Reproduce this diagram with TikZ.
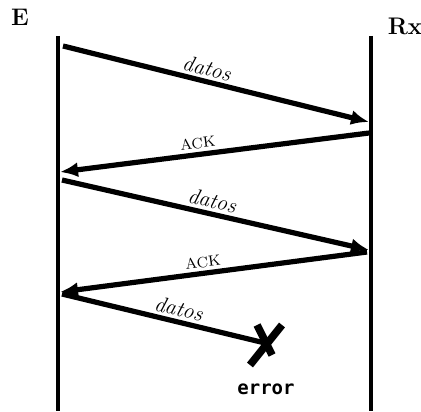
\documentclass[tikz,border=0pt]{standalone}
\usepackage{fontspec}
\newfontfamily\errfont{DejaVu Sans Mono}
\usetikzlibrary{arrows.meta}
\begin{document}
\begin{tikzpicture}[x=0.5pt,y=-0.5pt,line width=2pt,>={Latex[length=9pt,width=7.5pt]},
  msg/.style={->,line width=2.6pt},
  dat/.style={sloped,above,inner sep=1.5pt,font=\fontsize{11}{13}\selectfont\itshape},
  ack/.style={sloped,above,inner sep=1.5pt,font=\fontsize{7.5}{9}\selectfont}]
  \useasboundingbox (0,0) rectangle (421,411);
  % emisor y receptor
  \node[font=\large\bfseries] (E) at (20,17) {E};
  \node[font=\large\bfseries] (Rx) at (405,26) {Rx};
  \coordinate (Etop) at (58,36); \coordinate (Ebot) at (58,411);
  \coordinate (Rtop) at (371,36); \coordinate (Rbot) at (371,411);
  \draw (Etop) -- (Ebot);
  \draw (Rtop) -- (Rbot);
  % puntos de salida y llegada
  \foreach \n/\x/\y in {e1/63/46, r1/369/122, r2/369/133, e2/60/172, e3/62/180,
                        r3/369/250, r4/367/252, e4/60/292, e5/62/294}
    \coordinate (\n) at (\x,\y);
  \coordinate (err) at (265,343);
  % tramas y confirmaciones
  \draw[msg] (e1) -- node[dat,pos=0.46]{datos} (r1);
  \draw[msg] (r2) -- node[ack,pos=0.55]{ACK} (e2);
  \draw[msg] (e3) -- node[dat,pos=0.48]{datos} (r3);
  \draw[msg] (r4) -- node[ack,pos=0.53]{ACK} (e4);
  \draw[line width=2.6pt] (e5) -- node[dat,pos=0.56]{datos} (err);
  % trama perdida
  \draw[line width=3.8pt] ([shift={(-8,-18)}]err) -- ([shift={(7,12)}]err);
  \draw[line width=3.8pt] ([shift={(17,-18)}]err) -- ([shift={(-15,22)}]err);
  \node[font=\errfont\bfseries\fontsize{9.5}{11}\selectfont] (errlbl) at (266,389) {error};
\end{tikzpicture}
\end{document}
